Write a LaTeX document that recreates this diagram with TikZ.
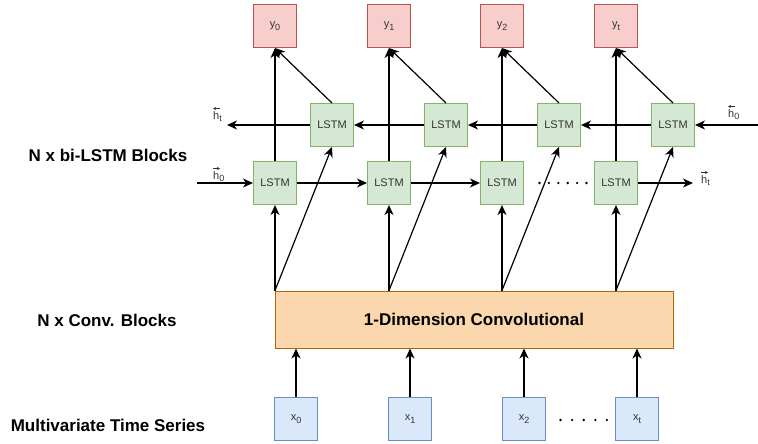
\documentclass[tikz,border=0pt]{standalone}
\usepackage{fontspec}
\setmainfont{Liberation Sans}
\usetikzlibrary{arrows.meta}
\definecolor{redfill}{HTML}{F8CECC}\definecolor{redline}{HTML}{B85450}
\definecolor{greenfill}{HTML}{D5E8D4}\definecolor{greenline}{HTML}{82B366}
\definecolor{bluefill}{HTML}{DAE8FC}\definecolor{blueline}{HTML}{6C8EBF}
\definecolor{orangefill}{HTML}{FAD7AC}\definecolor{orangeline}{HTML}{B46504}
\newcommand{\mysub}[2]{#1\raisebox{-0.45ex}{\small #2}}
\begin{document}
\begin{tikzpicture}[x=1pt,y=-1pt,
  box/.style={draw,line width=1pt,minimum width=43pt,minimum height=43pt,inner sep=0pt,font=\fontsize{11}{13}\selectfont,text=black!80},
  ybox/.style={box,fill=redfill,draw=redline},
  lbox/.style={box,fill=greenfill,draw=greenline},
  xbox/.style={box,fill=bluefill,draw=blueline},
  arr/.style={line width=1.2pt,-{Stealth[length=10pt,width=9pt,inset=3pt]}},
  lab/.style={font=\fontsize{17}{20}\selectfont\bfseries},
  hlab/.style={font=\fontsize{11}{13}\selectfont,text=black!80,inner sep=0pt,anchor=north west},
  harr/.style={line width=0.7pt,black!80},
  dot/.style={fill=black,circle,inner sep=0pt,minimum size=2.6pt}]
\useasboundingbox (0,0) rectangle (758,444);
% left labels
\node[lab] (t1) at (108,155) {N x bi-LSTM Blocks};
\node[lab] (t2) at (107,320) {N x Conv. Blocks};
\node[lab] (t3) at (108,425) {Multivariate Time Series};
% output boxes
\node[ybox] (y0) at (275,26) {\mysub{y}{0}};
\node[ybox] (y1) at (389,26) {\mysub{y}{1}};
\node[ybox] (y2) at (502,26) {\mysub{y}{2}};
\node[ybox] (y3) at (616,26) {\mysub{y}{t}};
% lower LSTMs
\node[lbox] (L0) at (275,183) {LSTM};
\node[lbox] (L1) at (389,183) {LSTM};
\node[lbox] (L2) at (502,183) {LSTM};
\node[lbox] (L3) at (616,183) {LSTM};
% upper LSTMs
\node[lbox] (U0) at (332,125) {LSTM};
\node[lbox] (U1) at (446,125) {LSTM};
\node[lbox] (U2) at (559,125) {LSTM};
\node[lbox] (U3) at (673,125) {LSTM};
% conv
\node[draw=orangeline,fill=orangefill,line width=1pt,minimum width=398pt,minimum height=57pt,inner sep=0pt,
  font=\fontsize{17}{20}\selectfont\bfseries] (conv) at (474,319.5) {1-Dimension Convolutional};
% inputs
\node[xbox] (x0) at (296,419) {\mysub{x}{0}};
\node[xbox] (x1) at (410,419) {\mysub{x}{1}};
\node[xbox] (x2) at (524,419) {\mysub{x}{2}};
\node[xbox] (x3) at (637,419) {\mysub{x}{t}};
% inputs to conv
\foreach \i in {0,...,3} {\draw[arr] (x\i) -- (x\i |- conv.south);}
% conv to LSTMs, LSTMs to outputs
\foreach \i in {0,...,3} {
  \coordinate (c\i) at (L\i |- conv.north);
  \draw[arr] (c\i) -- (L\i.south);
  \draw[arr] (c\i) -- (U\i.south);
  \draw[arr] (L\i.north) -- (y\i.south);
  \draw[arr] (U\i.north) -- (y\i.south);
}
% forward row
\coordinate (fin) at (197,183);
\coordinate (fout) at (693,183);
\draw[arr] (fin) -- (L0.west);
\draw[arr] (L0) -- (L1);
\draw[arr] (L1) -- (L2);
\draw[arr] (L3) -- (fout);
\node[hlab] (hf0) at (213,171) {\mysub{h}{0}};
\node[hlab] (hft) at (701,175) {\mysub{h}{t}};
% backward row
\coordinate (bin) at (758,125);
\coordinate (bout) at (227,125);
\draw[arr] (bin) -- (U3.east);
\draw[arr] (U3) -- (U2);
\draw[arr] (U2) -- (U1);
\draw[arr] (U1) -- (U0);
\draw[arr] (U0) -- (bout);
\node[hlab] (hbt) at (213,111) {\mysub{h}{t}};
\node[hlab] (hb0) at (728,109) {\mysub{h}{0}};
% small vector arrows over the h letters
\foreach \n in {hf0,hft} {\draw[harr,-{Stealth[length=3pt,width=3pt]}] ([shift={(0,-2.5)}]\n.north west) -- ++(7,0);}
\foreach \n in {hbt,hb0} {\draw[harr,-{Stealth[length=3pt,width=3pt]}] ([shift={(7,-2.5)}]\n.north west) -- ++(-7,0);}
% dots
\foreach \k in {0,...,5} {\node[dot] (da\k) at (539.5+9.4*\k,183) {};}
\foreach \k in {0,...,4} {\node[dot] (db\k) at (560.5+11.6*\k,420) {};}
\end{tikzpicture}
\end{document}
